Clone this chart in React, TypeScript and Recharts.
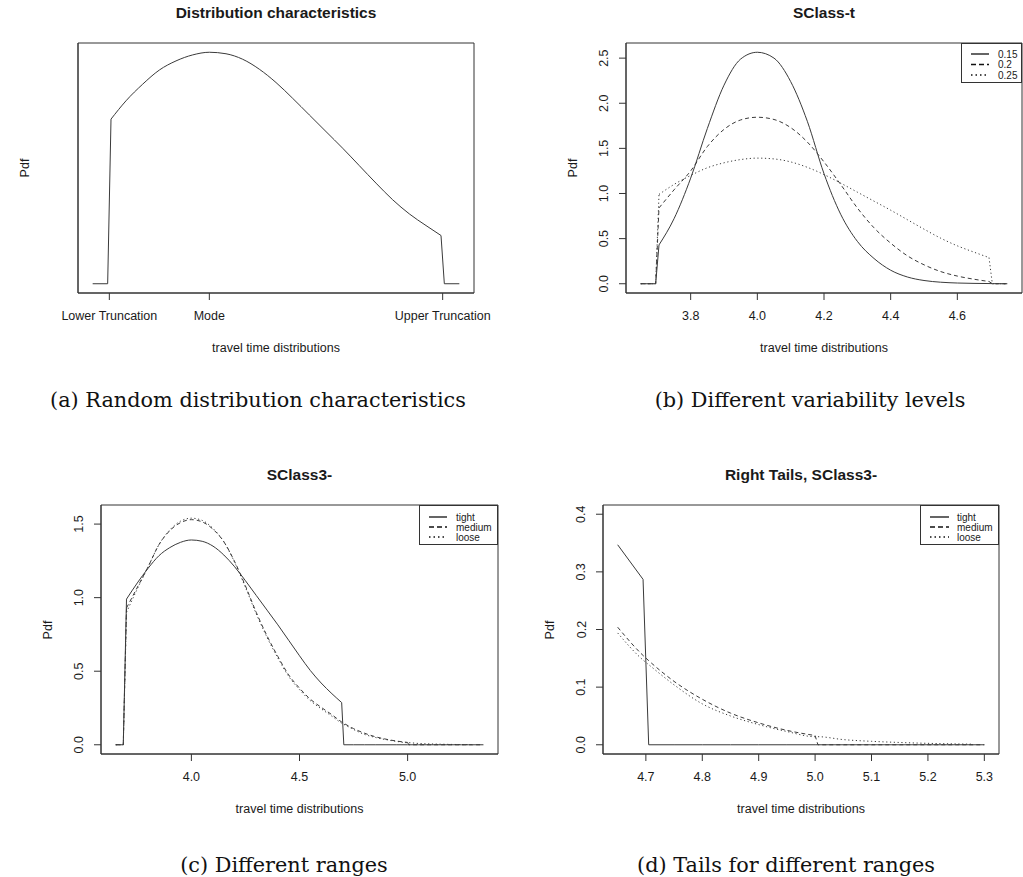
import { LineChart, Line, XAxis, YAxis, CartesianGrid } from "recharts"

const SANS = '"Liberation Sans", Arial, Helvetica, sans-serif'
const SERIF = '"DejaVu Serif", serif'
const INK = "#1a1a1a"
const LINE = "#333"
const CURVE = "#3a3a3a"

// panels (a) and (b): x grid and pdf values
const xB = [
  3.65, 3.695, 3.705, 3.75, 3.8, 3.85, 3.9, 3.95, 4.0, 4.05, 4.1, 4.15, 4.2,
  4.25, 4.3, 4.35, 4.4, 4.45, 4.5, 4.55, 4.6, 4.65, 4.695, 4.705, 4.75,
]
const pdf015 = [
  0, 0, 0.43, 0.72, 1.17, 1.72, 2.2, 2.49, 2.565, 2.5, 2.24, 1.8, 1.22, 0.77,
  0.47, 0.28, 0.15, 0.075, 0.036, 0.017, 0.008, 0.004, 0.002, 0.001, 0,
]
const pdf020 = [
  0, 0, 0.84, 1.04, 1.25, 1.52, 1.71, 1.815, 1.845, 1.82, 1.73, 1.57, 1.35,
  1.1, 0.84, 0.62, 0.45, 0.31, 0.21, 0.135, 0.085, 0.05, 0.025, 0, 0,
]
const pdf025 = [
  0, 0, 0.99, 1.1, 1.2, 1.285, 1.34, 1.376, 1.392, 1.383, 1.35, 1.29, 1.21,
  1.115, 1.015, 0.915, 0.815, 0.71, 0.605, 0.505, 0.42, 0.35, 0.29, 0, 0,
]

// panels (c) and (d): x grid and pdf values per range
const xC = [
  3.65, 3.685, 3.7, 3.75, 3.8, 3.85, 3.9, 3.95, 4.0, 4.05, 4.1, 4.15, 4.2,
  4.25, 4.3, 4.35, 4.4, 4.45, 4.5, 4.55, 4.6, 4.65, 4.695, 4.705, 4.75, 4.8,
  4.85, 4.9, 4.95, 5.0, 5.005, 5.05, 5.1, 5.15, 5.2, 5.25, 5.28, 5.3, 5.35,
]
const tight = [
  0, 0, 0.99, 1.1, 1.2, 1.285, 1.34, 1.376, 1.392, 1.383, 1.35, 1.29, 1.21,
  1.115, 1.015, 0.915, 0.815, 0.71, 0.605, 0.505, 0.42, 0.347, 0.287, 0, 0, 0,
  0, 0, 0, 0, 0, 0, 0, 0, 0, 0, 0, 0, 0,
]
const medium = [
  0, 0, 0.93, 1.07, 1.21, 1.36, 1.455, 1.51, 1.53, 1.515, 1.465, 1.38, 1.245,
  1.08, 0.9, 0.74, 0.6, 0.475, 0.385, 0.31, 0.255, 0.204, 0.155, 0.146, 0.11,
  0.079, 0.055, 0.038, 0.025, 0.016, 0, 0, 0, 0, 0, 0, 0, 0, 0,
]
const loose = [
  0, 0, 0.9, 1.06, 1.21, 1.36, 1.46, 1.52, 1.54, 1.525, 1.47, 1.38, 1.24,
  1.07, 0.89, 0.73, 0.59, 0.465, 0.375, 0.3, 0.245, 0.194, 0.147, 0.139,
  0.104, 0.071, 0.05, 0.035, 0.023, 0.014, 0.014, 0.009, 0.006, 0.004, 0.0025,
  0.0015, 0.001, null, null,
]

// truncation points: [top of the jump up, top of the drop]
const truncB: [number, number] = [3.705, 4.695]
const truncTight: [number, number] = [3.7, 4.695]
const truncMedium: [number, number] = [3.7, 5.0]
const truncLoose: [number, number] = [3.7, 5.35]

const ticksA = [3.7, 4.0, 4.7]
const labelsA = ["Lower Truncation", "Mode", "Upper Truncation"]
const ticksBx = [3.8, 4.0, 4.2, 4.4, 4.6]
const ticksBy = [0, 0.5, 1.0, 1.5, 2.0, 2.5]
const ticksCx = [4.0, 4.5, 5.0]
const ticksCy = [0, 0.5, 1.0, 1.5]
const ticksDx = [4.7, 4.8, 4.9, 5.0, 5.1, 5.2, 5.3]
const ticksDy = [0, 0.1, 0.2, 0.3, 0.4]
const ylimC = [0, 1.567]
const ylimD = [0, 0.4]

const DASH = "4 3"
const DOT = "1.2 2.6"

// R style axis extension (4% each side)
const rRange = (lo: number, hi: number): [number, number] => {
  const d = (hi - lo) * 0.04
  return [lo - d, hi + d]
}

type SeriesDef = { key: string; ys: (number | null)[]; trunc: [number, number]; dash?: string }

// smooth body between the truncation points, straight edges outside
function buildRows(xs: number[], series: SeriesDef[]) {
  return xs.map((x, i) => {
    const row: Record<string, number | null> = { x }
    series.forEach((s) => {
      const v = s.ys[i]
      const [lo, hi] = s.trunc
      row[s.key + "_b"] = x >= lo && x <= hi ? v : null
      row[s.key + "_e"] = x <= lo || x >= hi ? v : null
    })
    return row
  })
}

type Box = { L: number; T: number; R: number; B: number }

const YW = 60
const XH = 40

function XTick(props: any) {
  const { x, y, payload, labels, ticks } = props
  const idx = ticks ? ticks.indexOf(payload.value) : -1
  const text = labels && idx >= 0 ? labels[idx] : Number(payload.value).toFixed(1)
  return (
    <text x={x} y={y + 20.4} textAnchor="middle" fontSize={12.5} fill={INK} fontFamily={SANS}>
      {text}
    </text>
  )
}

function YTick(props: any) {
  const { x, y, payload } = props
  const bx = x - 10.5
  return (
    <text
      x={bx}
      y={y}
      transform={`rotate(-90 ${bx} ${y})`}
      textAnchor="middle"
      fontSize={12.5}
      fill={INK}
      fontFamily={SANS}
    >
      {Number(payload.value).toFixed(1)}
    </text>
  )
}

function Panel({
  box,
  xs,
  series,
  xRange,
  xDomain,
  yDomain,
  xTicks,
  yTicks,
  xLabels,
  padR = 2,
}: {
  box: Box
  xs: number[]
  series: SeriesDef[]
  xRange?: [number, number]
  xDomain: [number, number]
  yDomain: [number, number]
  xTicks: number[]
  yTicks?: number[]
  xLabels?: string[]
  padR?: number
}) {
  const width = YW + (box.R - box.L) + padR
  const height = 2 + (box.B - box.T) + XH
  let data = buildRows(xs, series)
  if (xRange) data = data.filter((r) => (r.x as number) >= xRange[0] && (r.x as number) <= xRange[1])
  const pw = box.R - box.L
  const ph = box.B - box.T
  return (
    <div style={{ position: "absolute", left: box.L - YW, top: box.T - 2 }}>
      <LineChart
        width={width}
        height={height}
        data={data}
        margin={{ top: 2, right: padR, bottom: 0, left: 0 }}
      >
        <CartesianGrid
          horizontalPoints={[2, 2 + ph]}
          verticalPoints={[YW, YW + pw]}
          stroke={LINE}
          strokeWidth={1}
          fill="none"
        />
        <XAxis
          type="number"
          dataKey="x"
          domain={xDomain}
          ticks={xTicks}
          interval={0}
          allowDataOverflow
          height={XH}
          axisLine={{ stroke: LINE }}
          tickSize={7}
          tickMargin={0}
          tickLine={{ stroke: LINE }}
          tick={<XTick labels={xLabels} ticks={xTicks} />}
        />
        <YAxis
          type="number"
          domain={yDomain}
          ticks={yTicks}
          interval={0}
          allowDataOverflow
          width={YW}
          axisLine={{ stroke: LINE }}
          tickSize={7}
          tickMargin={0}
          tickLine={yTicks ? { stroke: LINE } : false}
          tick={yTicks ? <YTick /> : false}
        />
        {series.flatMap((s) => [
          <Line
            key={s.key + "_e"}
            type="linear"
            dataKey={s.key + "_e"}
            stroke={CURVE}
            strokeWidth={1}
            strokeDasharray={s.dash}
            dot={false}
            activeDot={false}
            isAnimationActive={false}
          />,
          <Line
            key={s.key + "_b"}
            type="monotone"
            dataKey={s.key + "_b"}
            stroke={CURVE}
            strokeWidth={1}
            strokeDasharray={s.dash}
            dot={false}
            activeDot={false}
            isAnimationActive={false}
          />,
        ])}
      </LineChart>
    </div>
  )
}

function Texts({ box, title }: { box: Box; title: string }) {
  const cx = (box.L + box.R) / 2
  const cy = (box.T + box.B) / 2
  const base: React.CSSProperties = {
    position: "absolute",
    fontFamily: SANS,
    color: INK,
    whiteSpace: "nowrap",
    lineHeight: 1,
  }
  return (
    <>
      <div
        style={{
          ...base,
          left: cx,
          top: box.T - 30,
          fontSize: 15.5,
          fontWeight: "bold",
          transform: "translate(-50%, -50%)",
        }}
      >
        {title}
      </div>
      <div
        style={{
          ...base,
          left: cx,
          top: box.B + 55,
          fontSize: 12.5,
          transform: "translate(-50%, -50%)",
        }}
      >
        travel time distributions
      </div>
      <div
        style={{
          ...base,
          left: box.L - 53,
          top: cy,
          fontSize: 12.5,
          transform: "translate(-50%, -50%) rotate(-90deg)",
        }}
      >
        Pdf
      </div>
    </>
  )
}

function LegendBox({
  left,
  top,
  right,
  bottom,
  lineX1,
  lineX2,
  textX,
  rows,
}: {
  left: number
  top: number
  right: number
  bottom: number
  lineX1: number
  lineX2: number
  textX: number
  rows: { label: string; y: number; dash?: string }[]
}) {
  const w = right - left
  const h = bottom - top
  return (
    <svg
      width={w + 2}
      height={h + 2}
      style={{ position: "absolute", left: left - 1, top: top - 1, overflow: "visible" }}
    >
      <rect x={1.5} y={1.5} width={w - 1} height={h - 1} fill="white" stroke={LINE} strokeWidth={1} />
      {rows.map((r) => (
        <g key={r.label}>
          <line
            x1={lineX1 - left + 1}
            x2={lineX2 - left + 1}
            y1={r.y - top + 1}
            y2={r.y - top + 1}
            stroke="#111"
            strokeWidth={1.3}
            strokeDasharray={r.dash}
          />
          <text
            x={textX - left + 1}
            y={r.y - top + 1 + 3.6}
            fontSize={10}
            fontFamily={SANS}
            fill={INK}
          >
            {r.label}
          </text>
        </g>
      ))}
    </svg>
  )
}

function Caption({ x, y, text }: { x: number; y: number; text: string }) {
  return (
    <div
      style={{
        position: "absolute",
        left: x,
        top: y,
        transform: "translate(-50%, -50%)",
        fontFamily: SERIF,
        fontSize: 20.8,
        lineHeight: 1,
        color: "#111",
        whiteSpace: "nowrap",
      }}
    >
      {text}
    </div>
  )
}

const boxA: Box = { L: 78, T: 43, R: 474, B: 293 }
const boxB: Box = { L: 626, T: 43, R: 1022, B: 293 }
const boxC: Box = { L: 101, T: 505, R: 498, B: 754 }
const boxD: Box = { L: 603, T: 505, R: 999, B: 754 }

const seriesA: SeriesDef[] = [{ key: "s25", ys: pdf025, trunc: truncB }]
const seriesB: SeriesDef[] = [
  { key: "s15", ys: pdf015, trunc: [3.705, 4.75] },
  { key: "s20", ys: pdf020, trunc: truncB, dash: DASH },
  { key: "s25", ys: pdf025, trunc: truncB, dash: DOT },
]
const seriesC: SeriesDef[] = [
  { key: "tight", ys: tight, trunc: truncTight },
  { key: "medium", ys: medium, trunc: truncMedium, dash: DASH },
  { key: "loose", ys: loose, trunc: truncLoose, dash: DOT },
]

export default function App() {
  const xAB = rRange(3.65, 4.75)
  return (
    <div
      style={{
        position: "absolute",
        left: 0,
        top: 0,
        width: 1023,
        height: 877,
        overflow: "hidden",
        background: "white",
      }}
    >
      <Panel
        box={boxA}
        xs={xB}
        series={seriesA}
        xDomain={xAB}
        yDomain={rRange(0, Math.max(...pdf025))}
        xTicks={ticksA}
        xLabels={labelsA}
        padR={30}
      />
      <Texts box={boxA} title="Distribution characteristics" />

      <Panel
        box={boxB}
        xs={xB}
        series={seriesB}
        xDomain={xAB}
        yDomain={rRange(0, Math.max(...pdf015))}
        xTicks={ticksBx}
        yTicks={ticksBy}
      />
      <Texts box={boxB} title="SClass-t" />
      <LegendBox
        left={961}
        top={43}
        right={1022}
        bottom={83}
        lineX1={971}
        lineX2={989}
        textX={998}
        rows={[
          { label: "0.15", y: 54 },
          { label: "0.2", y: 64.5, dash: "5 3" },
          { label: "0.25", y: 75, dash: "1.5 3" },
        ]}
      />

      <Panel
        box={boxC}
        xs={xC}
        series={seriesC}
        xDomain={rRange(3.65, 5.35)}
        yDomain={rRange(ylimC[0], ylimC[1])}
        xTicks={ticksCx}
        yTicks={ticksCy}
      />
      <Texts box={boxC} title="SClass3-" />
      <LegendBox
        left={419}
        top={505}
        right={498}
        bottom={545}
        lineX1={429}
        lineX2={447}
        textX={456}
        rows={[
          { label: "tight", y: 517 },
          { label: "medium", y: 527, dash: "5 3" },
          { label: "loose", y: 537, dash: "1.5 3" },
        ]}
      />

      <Panel
        box={boxD}
        xs={xC}
        series={seriesC}
        xRange={[4.65, 5.3]}
        xDomain={rRange(4.65, 5.3)}
        yDomain={rRange(ylimD[0], ylimD[1])}
        xTicks={ticksDx}
        yTicks={ticksDy}
      />
      <Texts box={boxD} title="Right Tails, SClass3-" />
      <LegendBox
        left={920}
        top={505}
        right={999}
        bottom={545}
        lineX1={930}
        lineX2={949}
        textX={957}
        rows={[
          { label: "tight", y: 517 },
          { label: "medium", y: 527, dash: "5 3" },
          { label: "loose", y: 537, dash: "1.5 3" },
        ]}
      />

      <Caption x={258} y={400} text="(a) Random distribution characteristics" />
      <Caption x={810} y={400} text="(b) Different variability levels" />
      <Caption x={284} y={865} text="(c) Different ranges" />
      <Caption x={786} y={865} text="(d) Tails for different ranges" />
    </div>
  )
}
